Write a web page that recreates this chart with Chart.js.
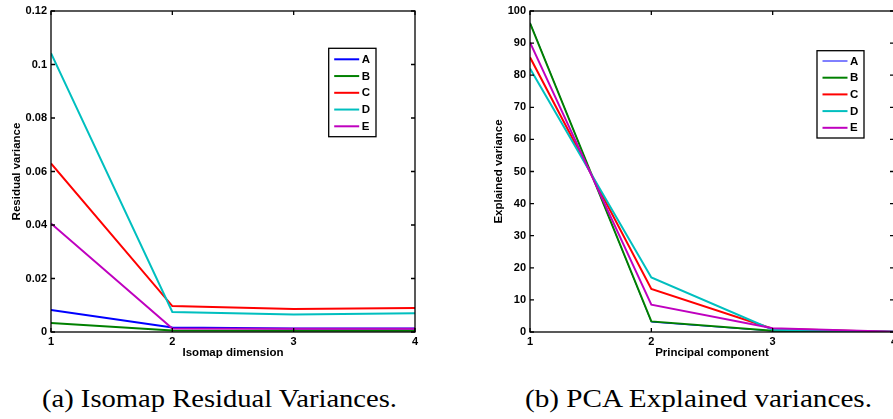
<!DOCTYPE html>
<html>
<head>
<meta charset="utf-8">
<script src="https://cdn.jsdelivr.net/npm/chart.js@4.4.1/dist/chart.umd.min.js"></script>
<style>
  html, body { margin: 0; padding: 0; background: #fff; overflow: hidden; }
  body { width: 893px; height: 419px; position: relative; }
  .box { position: absolute; top: 0; height: 365px; }
  #boxA { left: 0; width: 440px; }
  #boxB { left: 440px; width: 470px; }
  .cap { position: absolute; top: 386px; font-family: "Liberation Serif", serif; font-size: 26px;
         line-height: 1; white-space: nowrap; color: #000; transform-origin: 0 0; }
</style>
</head>
<body>
<div class="box" id="boxA"><canvas id="isomap"></canvas></div>
<div class="box" id="boxB"><canvas id="pca"></canvas></div>
<div class="cap" id="capA" data-w="355" style="left:42px">(a) Isomap Residual Variances.</div>
<div class="cap" id="capB" data-w="347" style="left:525px">(b) PCA Explained variances.</div>
<script>
// x positions shared by both plots
const dims = [1, 2, 3, 4]
const names = ['A', 'B', 'C', 'D', 'E']
const colors = ['#0000ff', '#008000', '#ff0000', '#00bfbf', '#bf00bf']

// residual variance per isomap dimension
const isoA = [0.0082, 0.0017, 0.0013, 0.0013]
const isoB = [0.0034, 0.0006, 0.0005, 0.0005]
const isoC = [0.0630, 0.0097, 0.0086, 0.0090]
const isoD = [0.1042, 0.0075, 0.0065, 0.0070]
const isoE = [0.0406, 0.0013, 0.0012, 0.0012]

// explained variance (%) per principal component
const pcaA = [96.4, 3.1, 0.3, 0.2]
const pcaB = [96.2, 3.3, 0.4, 0.1]
const pcaC = [85.6, 13.4, 1.0, 0.0]
const pcaD = [82.1, 17.0, 0.7, 0.1]
const pcaE = [90.2, 8.5, 1.2, 0.1]

const yTicksIso = [0, 0.02, 0.04, 0.06, 0.08, 0.1, 0.12]
const yTicksPca = [0, 10, 20, 30, 40, 50, 60, 70, 80, 90, 100]

Chart.defaults.color = '#000'
Chart.defaults.font.family = '"Liberation Sans", Arial, sans-serif'
Chart.defaults.font.weight = 'bold'

const tickFont = { size: 11, weight: 'bold' }
const titleFont = { size: 11.5, weight: 'bold' }

// matlab style box: frame, inward ticks, legend inside the axes
const matlabBox = {
    id: 'matlabBox',
    afterDatasetsDraw(chart, args, opts) {
        const ctx = chart.ctx
        const a = chart.chartArea
        const xs = chart.scales.x, ys = chart.scales.y
        ctx.save()
        ctx.strokeStyle = '#000'
        ctx.lineWidth = 1.3
        ctx.beginPath()
        for (const t of xs.ticks) {
            const px = xs.getPixelForValue(t.value)
            ctx.moveTo(px, a.bottom); ctx.lineTo(px, a.bottom - 4)
            ctx.moveTo(px, a.top); ctx.lineTo(px, a.top + 4)
        }
        for (const t of ys.ticks) {
            const py = ys.getPixelForValue(t.value)
            ctx.moveTo(a.left, py); ctx.lineTo(a.left + 4, py)
            ctx.moveTo(a.right, py); ctx.lineTo(a.right - 4, py)
        }
        ctx.stroke()
        ctx.strokeRect(a.left, a.top, a.right - a.left, a.bottom - a.top)

        // legend
        const L = opts.legend
        ctx.fillStyle = '#fff'
        ctx.fillRect(L.x, L.y, L.w, L.h)
        ctx.strokeRect(L.x, L.y, L.w, L.h)
        ctx.font = 'bold 11.5px "Liberation Sans", Arial, sans-serif'
        ctx.textBaseline = 'middle'
        chart.data.datasets.forEach((ds, i) => {
            const y = L.row0 + i * L.step
            ctx.strokeStyle = ds.borderColor
            ctx.lineWidth = ds.borderWidth
            ctx.beginPath()
            ctx.moveTo(L.x + 5.5, y); ctx.lineTo(L.x + 30.5, y)
            ctx.stroke()
            ctx.fillStyle = '#000'
            ctx.fillText(ds.label, L.x + 33, y + 0.5)
        })
        ctx.restore()
    }
}

function makeSets(series, widths) {
    return series.map((vals, i) => ({
        label: names[i],
        data: dims.map((d, k) => ({ x: d, y: vals[k] })),
        borderColor: colors[i],
        backgroundColor: colors[i],
        borderWidth: widths[i],
        pointRadius: 0,
        tension: 0,
        order: series.length - i
    }))
}

function fmt(v) { return String(parseFloat(v.toFixed(2))) }

function makeChart(id, sets, opt) {
    return new Chart(document.getElementById(id), {
        type: 'line',
        data: { datasets: sets },
        plugins: [matlabBox],
        options: {
            animation: false,
            responsive: true,
            maintainAspectRatio: false,
            layout: { padding: { left: opt.padLeft, top: 11, right: opt.padRight, bottom: 0 } },
            plugins: { legend: { display: false }, tooltip: { enabled: false }, matlabBox: { legend: opt.legend } },
            scales: {
                x: {
                    type: 'linear', min: 1, max: 4,
                    afterBuildTicks: s => { s.ticks = dims.map(v => ({ value: v })) },
                    ticks: { font: tickFont, padding: 3, callback: v => String(v), maxRotation: 0, autoSkip: false },
                    grid: { display: false, drawTicks: false },
                    border: { display: false },
                    title: { display: true, text: opt.xTitle, font: titleFont, padding: { top: 0, bottom: 5 } },
                    afterFit: s => { s.height = 33 }
                },
                y: {
                    type: 'linear', min: 0, max: opt.yTicks[opt.yTicks.length - 1],
                    afterBuildTicks: s => { s.ticks = opt.yTicks.map(v => ({ value: v })) },
                    ticks: { font: tickFont, padding: 4, callback: fmt, autoSkip: false },
                    grid: { display: false, drawTicks: false },
                    border: { display: false },
                    title: { display: true, text: opt.yTitle, font: titleFont, padding: { top: opt.yTitlePad, bottom: 0 } },
                    afterFit: s => { s.width = 51 }
                }
            }
        }
    })
}

makeChart('isomap', makeSets([isoA, isoB, isoC, isoD, isoE], [2, 2, 2, 2, 2]), {
    padLeft: 0, padRight: 25, yTicks: yTicksIso, yTitlePad: 10,
    xTitle: 'Isomap dimension', yTitle: 'Residual variance',
    legend: { x: 328.7, y: 48.3, w: 47.3, h: 88.4, row0: 59.3, step: 16.75 }
})

makeChart('pca', makeSets([pcaA, pcaB, pcaC, pcaD, pcaE], [1, 2, 2, 2, 2]), {
    padLeft: 39, padRight: 16, yTicks: yTicksPca, yTitlePad: 13,
    xTitle: 'Principal component', yTitle: 'Explained variance',
    legend: { x: 377, y: 50.7, w: 47, h: 87.3, row0: 61, step: 16.7 }
})

// stretch captions to the width of the serif original
for (const el of document.querySelectorAll('.cap')) {
    const w = el.getBoundingClientRect().width
    el.style.transform = 'scaleX(' + (Number(el.dataset.w) / w).toFixed(4) + ')'
}
</script>
</body>
</html>
